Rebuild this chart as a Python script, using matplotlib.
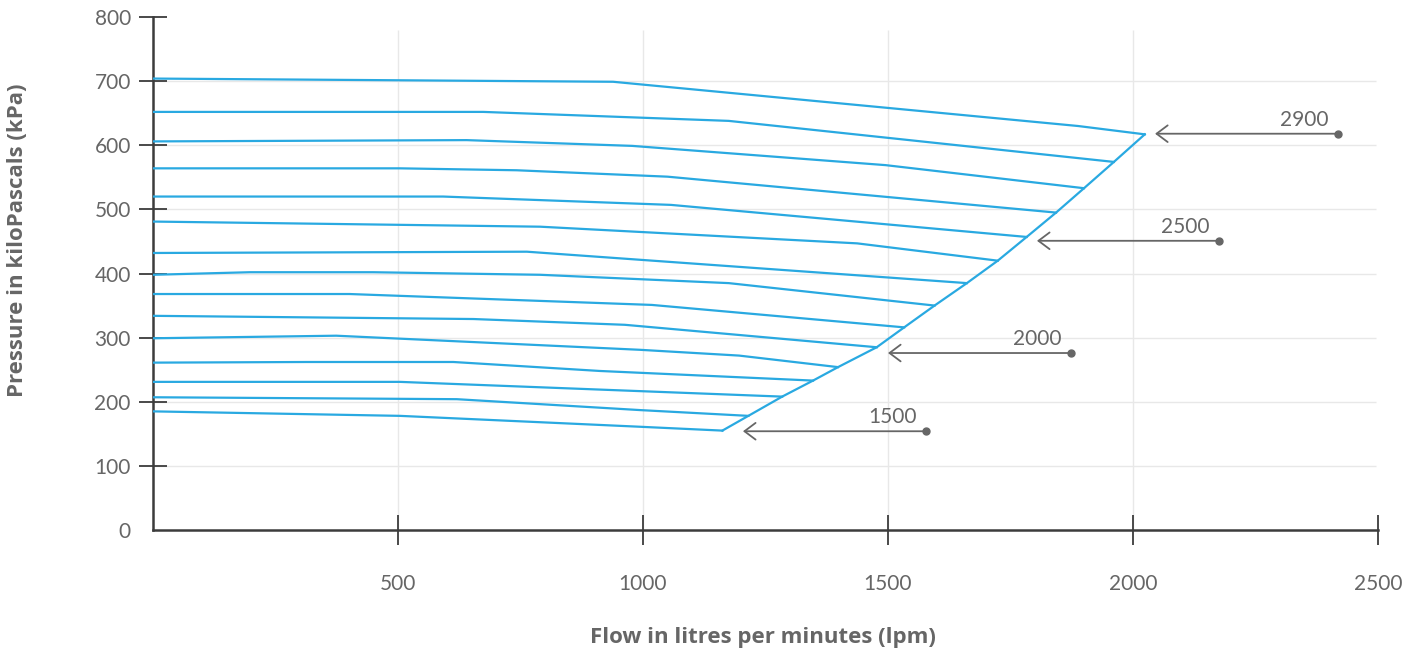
import matplotlib
matplotlib.use("Agg")
import matplotlib.pyplot as plt

# ---------------- data (flow lpm, pressure kPa) ----------------
c01_flow = [0, 939, 1888, 2024]
c01_pres = [704, 699, 630, 617]
c02_flow = [0, 674, 1175, 1961]
c02_pres = [652, 652, 638, 574]
c03_flow = [0, 640, 978, 1495, 1900]
c03_pres = [606, 608, 599, 569, 533]
c04_flow = [0, 504, 742, 1050, 1843]
c04_pres = [564, 564, 561, 551, 495]
c05_flow = [0, 592, 1057, 1783]
c05_pres = [520, 520, 507, 457]
c06_flow = [0, 790, 1437, 1724]
c06_pres = [481, 473, 447, 420]
c07_flow = [0, 763, 1661]
c07_pres = [432, 434, 385]
c08_flow = [0, 198, 449, 790, 1175, 1595]
c08_pres = [398, 402, 402, 398, 385, 350]
c09_flow = [0, 401, 1018, 1533]
c09_pres = [368, 368, 351, 316]
c10_flow = [0, 654, 963, 1477]
c10_pres = [334, 329, 320, 285]
c11_flow = [0, 374, 994, 1196, 1398]
c11_pres = [299, 303, 281, 272, 254]
c12_flow = [0, 314, 613, 912, 1347]
c12_pres = [261, 262, 262, 248, 233]
c13_flow = [0, 504, 1284]
c13_pres = [231, 231, 208]
c14_flow = [0, 620, 994, 1215]
c14_pres = [207, 204, 187, 178]
c15_flow = [0, 504, 994, 1162]
c15_pres = [185, 178, 161, 155]

speed_labels = ["2900", "2500", "2000", "1500"]
speed_tip_flow = [2045, 1804, 1500, 1204]
speed_tail_flow = [2418, 2176, 1874, 1578]
speed_pres = [618, 451, 276, 154]

x_ticks = [500, 1000, 1500, 2000, 2500]
x_tick_labels = ["500", "1000", "1500", "2000", "2500"]
y_ticks = [0, 100, 200, 300, 400, 500, 600, 700, 800]
y_tick_labels = ["0", "100", "200", "300", "400", "500", "600", "700", "800"]

curves = [
    (c01_flow, c01_pres), (c02_flow, c02_pres), (c03_flow, c03_pres),
    (c04_flow, c04_pres), (c05_flow, c05_pres), (c06_flow, c06_pres),
    (c07_flow, c07_pres), (c08_flow, c08_pres), (c09_flow, c09_pres),
    (c10_flow, c10_pres), (c11_flow, c11_pres), (c12_flow, c12_pres),
    (c13_flow, c13_pres), (c14_flow, c14_pres), (c15_flow, c15_pres),
]

# ---------------- styling ----------------
plt.rcParams['font.family'] = ['Lato', 'DejaVu Sans']
LINE = '#29a9e1'
TXT = '#666666'
AX = '#3c3c3c'
GRID = '#e8e8e8'

W, H = 1418, 655
fig = plt.figure(figsize=(W / 100, H / 100), dpi=100)
ax = fig.add_axes([153 / W, 125 / H, 1225 / W, 513 / H])
ax.set_xlim(0, 2500)
ax.set_ylim(0, 800)

# grid
ax.vlines(x_ticks[:-1], 0, 780, color=GRID, lw=1, zorder=0)
ax.hlines(y_ticks[1:-1], 0, 2495, color=GRID, lw=1, zorder=0)

# curves
for fx, py in curves:
    ax.plot(fx, py, color=LINE, lw=1.6, zorder=3, solid_joinstyle='miter')

# max flow boundary through curve end points
bx = [c[0][-1] for c in curves]
by = [c[1][-1] for c in curves]
ax.plot(bx, by, color=LINE, lw=1.6, zorder=3)

# annotations
for lab, tip, tail, p in zip(speed_labels, speed_tip_flow, speed_tail_flow, speed_pres):
    ax.annotate('', xy=(tip, p), xytext=(tail, p),
                arrowprops=dict(arrowstyle='->,head_length=0.8,head_width=0.6',
                                mutation_scale=10, color=TXT, lw=1.3,
                                shrinkA=0, shrinkB=0), zorder=4)
    ax.plot([tail], [p], 'o', color=TXT, ms=5, zorder=5)
    ax.annotate(lab, xy=(tail, p), xytext=(-7, 3), textcoords='offset points',
                ha='right', va='bottom', fontsize=15, color=TXT)

# spines
for s in ['top', 'right']:
    ax.spines[s].set_visible(False)
for s in ['left', 'bottom']:
    ax.spines[s].set_color(AX)
    ax.spines[s].set_linewidth(1.8)

ax.set_xticks(x_ticks)
ax.set_xticklabels(x_tick_labels)
ax.set_yticks(y_ticks)
ax.set_yticklabels(y_tick_labels)
ax.tick_params(axis='x', direction='inout', length=21, width=1.3, color=AX,
               pad=21, labelsize=15, labelcolor=TXT)
ax.tick_params(axis='y', direction='inout', length=20, width=1.3, color=AX,
               pad=6, labelsize=15, labelcolor=TXT)
ax.yaxis.get_major_ticks()[0].tick1line.set_visible(False)

lab_font = ['Open Sans', 'DejaVu Sans']
fig.text(18 / W, 1 - 240 / H, 'Pressure in kiloPascals (kPa)', rotation=90,
         ha='center', va='center', fontsize=16, fontweight='bold', color=TXT,
         family=lab_font)
fig.text(763 / W, 1 - 638 / H, 'Flow in litres per minutes (lpm)',
         ha='center', va='center', fontsize=16, fontweight='bold', color=TXT,
         family=lab_font)

fig.savefig('out.png', dpi=100)
